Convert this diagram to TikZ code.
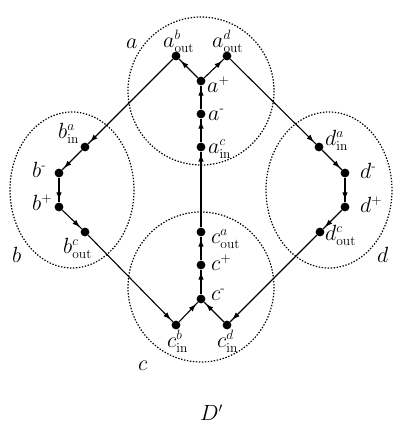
\RequirePackage{fix-cm}
\documentclass[tikz,border=0pt]{standalone}
\usepackage{amsmath}
\DeclareMathSizes{22}{22}{13.5}{10}
\usetikzlibrary{arrows.meta,decorations.markings}
\begin{document}
\begin{tikzpicture}[x=1pt,y=-1pt,
  dot/.style={circle,fill=black,inner sep=0pt,minimum size=8.8pt},
  lab/.style={anchor=base west,inner sep=0pt,font=\fontsize{22}{26}\selectfont},
  region/.style={line width=1.2pt,dash pattern=on 1.4pt off 1.6pt},
  flow/.style={line width=1.1pt,postaction={decorate},
    decoration={markings,mark=at position -2.5pt with {\arrow{Latex[length=7.5pt,width=5.5pt]}}}}]
\useasboundingbox (0,0) rectangle (408,432);
% regions
\draw[region] (201,91) ellipse [x radius=73,y radius=74];
\draw[region] (201,287) ellipse [x radius=73,y radius=75];
\draw[region] (72,190) ellipse [x radius=62,y radius=78];
\draw[region] (329,190) ellipse [x radius=63,y radius=78];
% vertices
\node[dot] (aoutb) at (176,56) {};
\node[dot] (aoutd) at (227,56) {};
\node[dot] (ap) at (201,81) {};
\node[dot] (am) at (201,114) {};
\node[dot] (ainc) at (201,147) {};
\node[dot] (couta) at (201,232) {};
\node[dot] (cp) at (201,265) {};
\node[dot] (cm) at (201,299) {};
\node[dot] (cinb) at (176,325) {};
\node[dot] (cind) at (227,325) {};
\node[dot] (bina) at (85,147) {};
\node[dot] (bm) at (59,173) {};
\node[dot] (bp) at (59,207) {};
\node[dot] (boutc) at (85,232) {};
\node[dot] (dina) at (319,147) {};
\node[dot] (dm) at (345,173) {};
\node[dot] (dp) at (345,207) {};
\node[dot] (doutc) at (320,232) {};
% edges
\draw[flow] (ap) -- (aoutb);
\draw[flow] (ap) -- (aoutd);
\draw[flow] (am) -- (ap);
\draw[flow] (ainc) -- (am);
\draw[flow] (couta) -- (ainc);
\draw[flow] (cp) -- (couta);
\draw[flow] (cm) -- (cp);
\draw[flow] (cinb) -- (cm);
\draw[flow] (cind) -- (cm);
\draw[flow] (aoutb) -- (bina);
\draw[flow] (bina) -- (bm);
\draw[flow] (bm) -- (bp);
\draw[flow] (bp) -- (boutc);
\draw[flow] (boutc) -- (cinb);
\draw[flow] (aoutd) -- (dina);
\draw[flow] (dina) -- (dm);
\draw[flow] (dm) -- (dp);
\draw[flow] (dp) -- (doutc);
\draw[flow] (doutc) -- (cind);
% labels
\node[lab] (la1) at (163,47) {$a^{b}_{\mathrm{out}}$};
\node[lab] (la2) at (212,47) {$a^{d}_{\mathrm{out}}$};
\node[lab] (la3) at (207,92) {$a^{+}$};
\node[lab] (la4) at (208,120) {$a^{\text{-}}$};
\node[lab] (la5) at (208,153) {$a^{c}_{\mathrm{in}}$};
\node[lab] (lb1) at (58,138) {$b^{a}_{\mathrm{in}}$};
\node[lab] (lb2) at (32,177) {$b^{\text{-}}$};
\node[lab] (lb3) at (32,210) {$b^{+}$};
\node[lab] (lb4) at (63,253) {$b^{c}_{\mathrm{out}}$};
\node[lab] (ld1) at (325,145) {$d^{a}_{\mathrm{in}}$};
\node[lab] (ld2) at (360,178) {$d^{\text{-}}$};
\node[lab] (ld3) at (360,212) {$d^{+}$};
\node[lab] (ld4) at (325,240) {$d^{c}_{\mathrm{out}}$};
\node[lab] (lc1) at (211,243) {$c^{a}_{\mathrm{out}}$};
\node[lab] (lc2) at (211,270) {$c^{+}$};
\node[lab] (lc3) at (211,300) {$c^{\text{-}}$};
\node[lab] (lc4) at (167,347) {$c^{b}_{\mathrm{in}}$};
\node[lab] (lc5) at (217,347) {$c^{d}_{\mathrm{in}}$};
\node[lab] (ra) at (126,48) {$a$};
\node[lab] (rb) at (12,262) {$b$};
\node[lab] (rc) at (138,370) {$c$};
\node[lab] (rd) at (377,262) {$d$};
\node[lab] (title) at (200,420) {$D'$};
\end{tikzpicture}
\end{document}
